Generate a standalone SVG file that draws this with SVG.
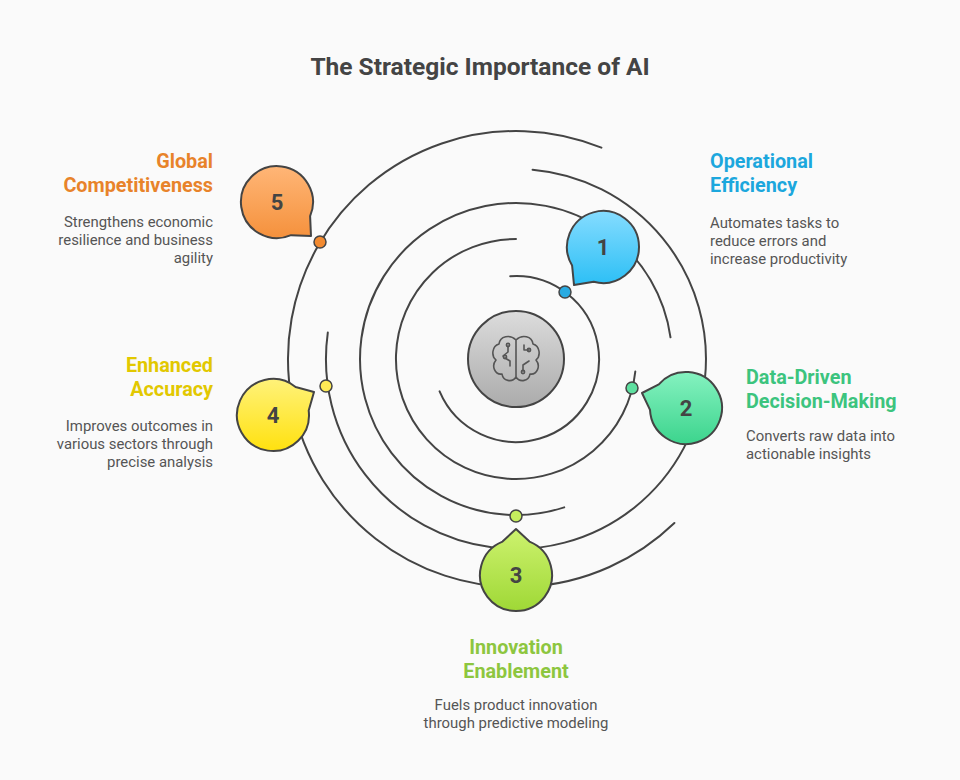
<svg xmlns="http://www.w3.org/2000/svg" width="960" height="780" viewBox="0 0 960 780">
<defs>
<style>
.ring{fill:none;stroke:#444;stroke-width:2;stroke-linecap:round}
.bub{stroke:#444;stroke-width:2;stroke-linejoin:round}
.num{font-family:"Roboto","Liberation Sans",sans-serif;font-weight:bold;font-size:22px;fill:#444;text-anchor:middle}
.h{font-family:"Roboto","Liberation Sans",sans-serif;font-weight:bold;font-size:19.8px}
.b{font-family:"Roboto","Liberation Sans",sans-serif;font-size:14.9px;fill:#555}
.dot{stroke:#444;stroke-width:1.5}
.ic{fill:none;stroke:#555;stroke-width:1.6;stroke-linecap:round;stroke-linejoin:round}
</style>
<linearGradient id="g1" x1="0" y1="0" x2="0" y2="1"><stop offset="0" stop-color="#85dcff"/><stop offset="1" stop-color="#2cbff5"/></linearGradient>
<linearGradient id="g2" x1="0" y1="0" x2="0" y2="1"><stop offset="0" stop-color="#85f2c0"/><stop offset="1" stop-color="#3cd48d"/></linearGradient>
<linearGradient id="g3" x1="0" y1="0" x2="0" y2="1"><stop offset="0" stop-color="#cdf26e"/><stop offset="1" stop-color="#9fd836"/></linearGradient>
<linearGradient id="g4" x1="0" y1="0" x2="0" y2="1"><stop offset="0" stop-color="#fff27a"/><stop offset="1" stop-color="#ffe10f"/></linearGradient>
<linearGradient id="g5" x1="0" y1="0" x2="0" y2="1"><stop offset="0" stop-color="#ffb677"/><stop offset="1" stop-color="#f5913c"/></linearGradient>
<linearGradient id="gc" x1="0" y1="0" x2="0" y2="1"><stop offset="0" stop-color="#dcdcdc"/><stop offset="1" stop-color="#ababab"/></linearGradient>
</defs>
<rect width="960" height="780" fill="#fafafa"/>
<text x="480" y="75" text-anchor="middle" font-family="Roboto,'Liberation Sans',sans-serif" font-weight="bold" font-size="24.5" fill="#444">The Strategic Importance of AI</text>
<g id="connectors">
<path class="ring" d="M510.2,276.2 A83,83 0 1 1 439.6,391.4"/>
<path class="ring" d="M635.3,371.5 A120,120 0 1 1 516,239"/>
<path class="ring" d="M564.2,507.4 A156,156 0 1 1 670.5,337.3"/>
<path class="ring" d="M532.6,169.7 A190,190 0 1 1 327.8,332.6"/>
<path class="ring" d="M674.4,523 A228,228 0 1 1 601.4,147.6"/>
</g>
<g id="center">
<circle cx="516" cy="359" r="48" fill="url(#gc)" stroke="#444" stroke-width="2"/>
<path class="ic" d="M516,340 C510,334 500,336 499,344 C492,346 491,356 496,360 C491,366 495,375 502,374 C503,381 512,383 516,377 C520,383 529,381 530,374 C537,375 541,366 536,360 C541,356 540,346 533,344 C532,336 522,334 516,340 Z M516,340 V377"/>
<path class="ic" d="M508,346 v6 l-5,4 M510,366 v-5 l-5,-3 M524,345 v5 h5 M523,371 v-6 l6,-4"/>
<circle class="ic" cx="508" cy="345" r="1.6"/><circle class="ic" cx="529" cy="350" r="1.6"/><circle class="ic" cx="523" cy="372" r="1.6"/><circle class="ic" cx="505" cy="357" r="1.6"/>
</g>
<g id="node1">
<path class="bub" fill="url(#g1)" d="M593.7,281.8 L574,285 L572.1,265.5 A36,36 0 1 1 593.7,281.8 Z"/>
<text class="num" x="603" y="255">1</text>
<circle class="dot" cx="565" cy="292" r="6" fill="#29abe2"/>
<text class="h" fill="#1ca7dd" x="710" y="168">Operational</text>
<text class="h" fill="#1ca7dd" x="710" y="192">Efficiency</text>
<text class="b" x="710" y="228">Automates tasks to</text>
<text class="b" x="710" y="246">reduce errors and</text>
<text class="b" x="710" y="264">increase productivity</text>
</g>
<g id="node2">
<path class="bub" fill="url(#g2)" d="M650,409.9 L642,393 L658.8,384.4 A36,36 0 1 1 650,409.9 Z"/>
<text class="num" x="686" y="416">2</text>
<circle class="dot" cx="632" cy="388" r="6" fill="#5ee0a0"/>
<text class="h" fill="#3cc47e" x="746" y="384">Data-Driven</text>
<text class="h" fill="#3cc47e" x="746" y="408">Decision-Making</text>
<text class="b" x="746" y="441">Converts raw data into</text>
<text class="b" x="746" y="459">actionable insights</text>
</g>
<g id="node3">
<path class="bub" fill="url(#g3)" d="M502.5,541.6 L516,529 L529.5,541.6 A36,36 0 1 1 502.5,541.6 Z"/>
<text class="num" x="516" y="583">3</text>
<circle class="dot" cx="516" cy="516" r="6" fill="#c6ee5e"/>
<text class="h" fill="#8dc63f" x="516" y="654" text-anchor="middle">Innovation</text>
<text class="h" fill="#8dc63f" x="516" y="678" text-anchor="middle">Enablement</text>
<text class="b" x="516" y="710" text-anchor="middle">Fuels product innovation</text>
<text class="b" x="516" y="728" text-anchor="middle">through predictive modeling</text>
</g>
<g id="node4">
<path class="bub" fill="url(#g4)" d="M295.6,387 L314,392 L308.7,410.6 A36,36 0 1 1 295.6,387 Z"/>
<text class="num" x="273" y="423">4</text>
<circle class="dot" cx="326" cy="386" r="6" fill="#ffeb55"/>
<text class="h" fill="#e2c800" x="213" y="372" text-anchor="end">Enhanced</text>
<text class="h" fill="#e2c800" x="213" y="396" text-anchor="end">Accuracy</text>
<text class="b" x="213" y="431" text-anchor="end">Improves outcomes in</text>
<text class="b" x="213" y="449" text-anchor="end">various sectors through</text>
<text class="b" x="213" y="467" text-anchor="end">precise analysis</text>
</g>
<g id="node5">
<path class="bub" fill="url(#g5)" d="M310.1,216.1 L311,236 L291.1,235.2 A36,36 0 1 1 310.1,216.1 Z"/>
<text class="num" x="277" y="210">5</text>
<circle class="dot" cx="320" cy="242" r="6" fill="#f28a30"/>
<text class="h" fill="#e8832a" x="213" y="168" text-anchor="end">Global</text>
<text class="h" fill="#e8832a" x="213" y="192" text-anchor="end">Competitiveness</text>
<text class="b" x="213" y="227" text-anchor="end">Strengthens economic</text>
<text class="b" x="213" y="245" text-anchor="end">resilience and business</text>
<text class="b" x="213" y="263" text-anchor="end">agility</text>
</g>
</svg>
